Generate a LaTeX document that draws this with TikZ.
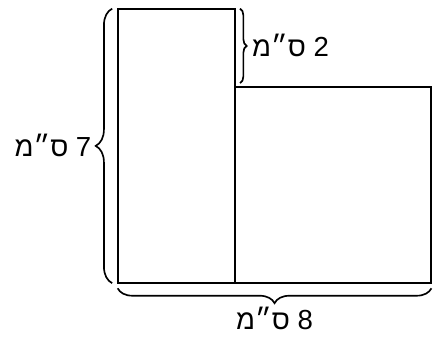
\documentclass[tikz,border=0pt]{standalone}
\usepackage{fontspec}
\TeXXeTstate=1
\newfontfamily\hebfont[Script=Hebrew]{Liberation Sans}
\usetikzlibrary{decorations.pathreplacing,positioning}
\tikzset{
  fig/.style={draw=black, line width=1.5pt},
  brc/.style={decorate, draw=black, line width=1.2pt,
    decoration={brace, amplitude=#1}},
  brc/.default=4mm,
  lbl/.style={font=\hebfont\fontsize{20}{24}\selectfont, inner sep=2pt},
}
\begin{document}
\begin{tikzpicture}
  \useasboundingbox (-3.0,-1.35) rectangle (8.04,7.22);
  % the two rectangles
  \coordinate (o) at (0,0);
  \coordinate (tall) at (3,7);
  \draw[fig] (o) rectangle (tall);
  \draw[fig] (3,0) rectangle (8,5);
  % braces with sizes
  \draw[brc=4.2mm] (-0.14,0) -- (-0.14,7)
    node[lbl, midway, left=4.4mm] (hgt) {\beginR 7 ס״מ\endR};
  \draw[brc=1.7mm] (3.12,7) -- (3.12,5.1)
    node[lbl, midway, right=2.2mm] (top) {\beginR 2 ס״מ\endR};
  \draw[brc=3.8mm] (8,-0.13) -- (0,-0.13)
    node[lbl, midway, below=3.9mm] (wid) {\beginR 8 ס״מ\endR};
\end{tikzpicture}
\end{document}
